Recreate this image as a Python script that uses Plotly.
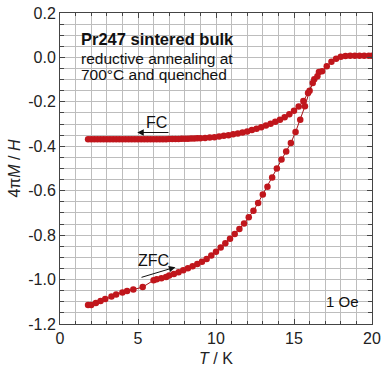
import plotly.graph_objects as go

# FC branch
T_fc = [1.8, 2.0, 2.2, 2.4, 2.6, 2.8, 3.0, 3.2, 3.4, 3.6, 3.8, 4.0, 4.2, 4.4, 4.6, 4.8,
        5.0, 5.2, 5.4, 5.6, 5.8, 6.0, 6.2, 6.4, 6.6, 6.8, 7.0, 7.2, 7.4, 7.6, 7.8, 8.0,
        8.2, 8.4, 8.6, 8.8, 9.0, 9.3, 9.6, 9.9, 10.2, 10.5, 10.8, 11.1, 11.4, 11.7, 12.0,
        12.3, 12.6, 12.9, 13.2, 13.5, 13.8, 14.1, 14.4, 14.7, 15.0, 15.3, 15.6, 15.9,
        16.2, 16.5, 16.8, 17.1, 17.4, 17.7, 18.0, 18.3, 18.6, 18.9, 19.2, 19.5, 19.8, 20.0]
M_fc = [-0.368, -0.368, -0.368, -0.368, -0.368, -0.368, -0.368, -0.368, -0.368, -0.368,
        -0.368, -0.368, -0.368, -0.368, -0.368, -0.368, -0.368, -0.368, -0.368, -0.368,
        -0.368, -0.368, -0.368, -0.368, -0.368, -0.368, -0.367, -0.367, -0.367, -0.367,
        -0.366, -0.366, -0.366, -0.365, -0.365, -0.364, -0.364, -0.363, -0.361, -0.359,
        -0.356, -0.353, -0.350, -0.346, -0.342, -0.338, -0.333, -0.327, -0.321, -0.314,
        -0.306, -0.298, -0.289, -0.280, -0.269, -0.256, -0.240, -0.221, -0.196, -0.160,
        -0.115, -0.085, -0.062, -0.040, -0.020, -0.006, 0.003, 0.006, 0.007, 0.007,
        0.007, 0.007, 0.007, 0.007]

# ZFC branch
T_zfc = [1.8, 2.0, 2.3, 2.6, 2.9, 3.3, 3.6, 4.0, 4.3, 4.7, 5.3, 6.0, 6.2, 6.5, 6.8, 7.0,
         7.3, 7.6, 7.9, 8.2, 8.5, 8.8, 9.1, 9.4, 9.7, 10.0, 10.3, 10.6, 10.9, 11.2, 11.5,
         11.8, 12.1, 12.4, 12.7, 13.0, 13.3, 13.6, 13.9, 14.2, 14.5, 14.8, 15.1, 15.4,
         15.7, 16.0, 16.3, 16.6]
M_zfc = [-1.115, -1.115, -1.105, -1.097, -1.088, -1.076, -1.067, -1.058, -1.052, -1.045,
         -1.034, -1.003, -0.998, -0.994, -0.988, -0.982, -0.975, -0.967, -0.958, -0.949,
         -0.940, -0.930, -0.920, -0.907, -0.892, -0.875, -0.856, -0.836, -0.816, -0.795,
         -0.772, -0.748, -0.720, -0.690, -0.655, -0.617, -0.582, -0.540, -0.500, -0.460,
         -0.424, -0.385, -0.336, -0.280, -0.220, -0.150, -0.098, -0.066]

# tick labels
x_ticks = [0, 5, 10, 15, 20]
x_ticklabels = ["0", "5", "10", "15", "20"]
y_ticks = [0.2, 0.0, -0.2, -0.4, -0.6, -0.8, -1.0, -1.2]
y_ticklabels = ["0.2", "0.0", "-0.2", "-0.4", "-0.6", "-0.8", "-1.0", "-1.2"]

red = "#c0161c"
fig = go.Figure()
for T, M in [(T_zfc, M_zfc), (T_fc, M_fc)]:
    fig.add_trace(go.Scatter(x=T, y=M, mode="lines+markers",
                             line=dict(color="#a01216", width=1),
                             marker=dict(color=red, size=6.5),
                             showlegend=False))

font = "Liberation Sans, Arial, sans-serif"
annotations = []
for x, y, text, size in [(1.2, 0.082, "<b>Pr247 sintered bulk</b>", 16.5),
                         (1.2, -0.006, "reductive annealing at", 15.5),
                         (1.2, -0.078, "700°C and quenched", 15.5),
                         (16.9, -1.10, "1 Oe", 15)]:
    annotations.append(dict(x=x, y=y, xref="x", yref="y", text=text,
                            showarrow=False, xanchor="left", yanchor="middle",
                            font=dict(family=font, color="#111", size=size)))
annotations.append(dict(x=6.2, y=-0.294, xref="x", yref="y", text="FC", showarrow=False,
                        font=dict(family=font, size=16, color="#111")))
annotations.append(dict(x=6.0, y=-0.913, xref="x", yref="y", text="ZFC", showarrow=False,
                        font=dict(family=font, size=16, color="#111")))
annotations.append(dict(x=4.95, y=-0.338, ax=7.05, ay=-0.338, xref="x", yref="y",
                        axref="x", ayref="y", text="", showarrow=True, arrowhead=2,
                        arrowsize=1.3, arrowwidth=1, arrowcolor="#111"))
annotations.append(dict(x=7.4, y=-0.944, ax=5.13, ay=-0.992, xref="x", yref="y",
                        axref="x", ayref="y", text="", showarrow=True, arrowhead=2,
                        arrowsize=1.3, arrowwidth=1, arrowcolor="#111"))

axis_common = dict(showline=True, linecolor="#444", linewidth=1, mirror="ticks",
                   ticks="inside", ticklen=5, tickcolor="#444", showgrid=True,
                   gridcolor="#bdbdbd", gridwidth=1, zeroline=False, automargin=False,
                   tickfont=dict(family=font, size=16, color="#222"))
fig.update_layout(
    width=385, height=369,
    margin=dict(l=60, r=13, t=13, b=45),
    plot_bgcolor="white", paper_bgcolor="white",
    annotations=annotations,
    xaxis=dict(range=[0, 20], tickvals=x_ticks, ticktext=x_ticklabels,
               minor=dict(dtick=1, showgrid=True, gridcolor="#bdbdbd", ticks="inside",
                          ticklen=3, tickcolor="#444"),
               title=dict(text="<i>T</i> / K", font=dict(family=font, size=16, color="#222"),
                          standoff=6),
               **axis_common),
    yaxis=dict(range=[-1.2, 0.2], tickvals=y_ticks, ticktext=y_ticklabels,
               minor=dict(dtick=0.05, tick0=0, showgrid=True, gridcolor="#bdbdbd",
                          ticks="inside", ticklen=4, tickcolor="#444"),
               title=dict(text="4π<i>M</i> / <i>H</i>", font=dict(family=font, size=16, color="#222"),
                          standoff=3),
               **axis_common),
)
fig.write_html("out.html", config={"displayModeBar": False},
               post_script="document.body.style.margin='0';document.body.style.overflow='hidden';")
